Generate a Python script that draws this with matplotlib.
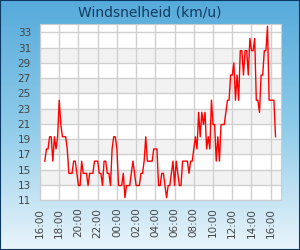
import numpy as np
import pandas as pd
import matplotlib
matplotlib.use("Agg")
import matplotlib.pyplot as plt
import matplotlib.dates as mdates
from matplotlib.colors import LinearSegmentedColormap
from matplotlib.patches import Rectangle

# wind speed (km/h), 10-minute readings from 16:30 to 16:30 the next day
start_time = "2024-01-01 16:30"
wind_kmh = [
    16.1, 17.7, 17.7, 19.3, 19.3, 16.1,
    19.3, 17.7, 19.3, 24.1, 20.9, 19.3,
    19.3, 19.3, 17.7, 14.5, 14.5, 14.5,
    16.1, 16.1, 14.5, 12.9, 12.9, 16.1,
    14.5, 14.5, 14.5, 12.9, 14.5, 14.5,
    14.5, 16.1, 16.1, 16.1, 14.5, 14.5,
    12.9, 16.1, 16.1, 14.5, 14.5, 12.9,
    17.7, 19.3, 19.3, 17.7, 12.9, 12.9,
    12.9, 14.5, 11.3, 12.9, 12.9, 12.9,
    14.5, 16.1, 14.5, 12.9, 12.9, 12.9,
    14.5, 14.5, 16.1, 19.3, 16.1, 16.1,
    16.1, 16.1, 17.7, 17.7, 17.7, 12.9,
    12.9, 14.5, 14.5, 12.9, 11.3, 12.9,
    12.9, 14.5, 16.1, 12.9, 16.1, 14.5,
    12.9, 12.9, 16.1, 16.1, 16.1, 16.1,
    14.5, 16.1, 16.1, 17.7, 19.3, 17.7,
    22.5, 19.3, 22.5, 20.9, 22.5, 17.7,
    19.3, 17.7, 24.1, 20.9, 20.9, 16.1,
    19.3, 16.1, 20.9, 20.9, 20.9, 22.5,
    24.1, 24.1, 27.4, 27.4, 29.0, 24.1,
    27.4, 24.1, 30.6, 30.6, 27.4, 30.6,
    30.6, 27.4, 32.2, 30.6, 30.6, 32.2,
    24.1, 24.1, 22.5, 27.4, 27.4, 30.6,
    30.6, 33.8, 24.1, 24.1, 24.1, 24.1,
    19.3,
]
times = pd.date_range(start_time, periods=len(wind_kmh), freq="10min")

axis_start = pd.Timestamp("2024-01-01 16:00")
axis_end = axis_start + pd.Timedelta(hours=25.07)
x_ticks = pd.date_range(axis_start, periods=13, freq="2h")
y_ticks = list(range(11, 34, 2))

fig = plt.figure(figsize=(3, 2.5), dpi=100)

# blue gradient background
bg = fig.add_axes([0, 0, 1, 1], zorder=-10)
cmap = LinearSegmentedColormap.from_list("bg", ["#56aadb", "#8ecbe9", "#eaf5fb"])
bg.imshow(np.linspace(0, 1, 256).reshape(-1, 1), aspect="auto", cmap=cmap,
          extent=[0, 1, 0, 1], origin="upper")
bg.axis("off")
fig.patches.append(Rectangle((0, 0), 1, 1, transform=fig.transFigure,
                             fill=False, edgecolor="#0b3763", lw=1.5))

fig.text(0.5, 0.952, "Windsnelheid (km/u)", ha="center", va="center",
         fontsize=10, color="#123c5e")

ax = fig.add_axes([40 / 300, 0.2, 241 / 300, 0.704])
ax.set_facecolor("white")
for lo in range(13, 33, 4):
    ax.axhspan(lo, lo + 2, color="#f2f2f2", lw=0, zorder=0)

ax.plot(times, wind_kmh, color="red", lw=1.0, zorder=3)

ax.set_xlim(axis_start, axis_end)
ax.set_ylim(11, 34.1)
ax.set_xticks(x_ticks)
ax.xaxis.set_major_formatter(mdates.DateFormatter("%H:%M"))
ax.set_yticks(y_ticks)
ax.grid(True, color="#d0d0d0", lw=1.0, zorder=1)
ax.set_axisbelow(True)
for s in ax.spines.values():
    s.set_color("#cccccc")
ax.tick_params(length=0, labelsize=7.5, labelcolor="#444444")
ax.tick_params(axis="y", pad=6.5)
ax.tick_params(axis="x", pad=5.5, labelrotation=90)

fig.savefig("out.png", dpi=100)
